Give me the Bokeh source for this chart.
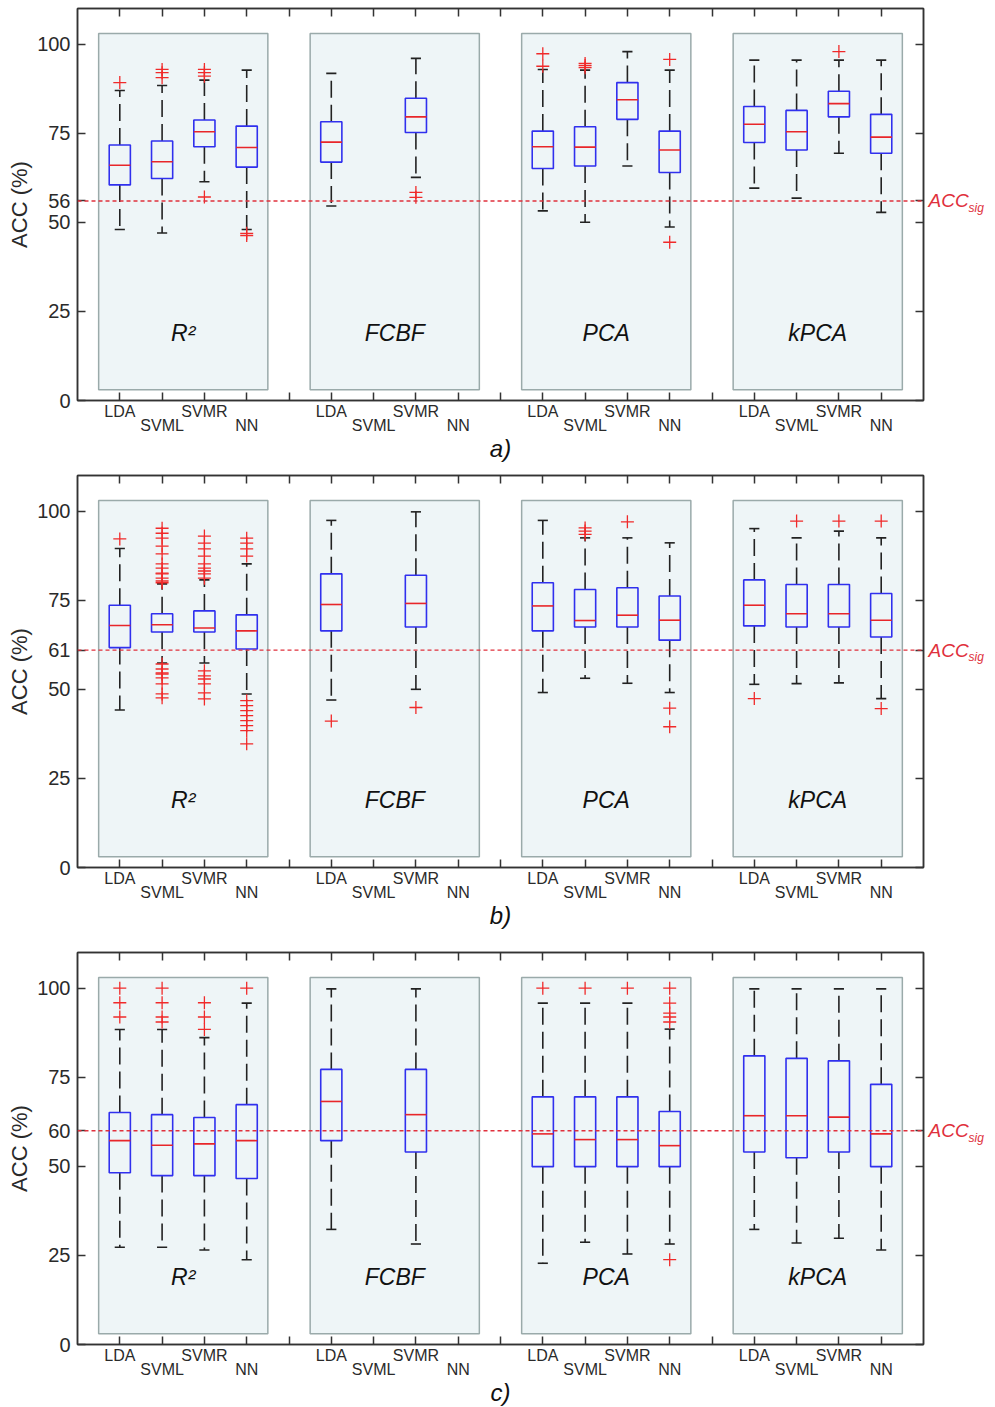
from bokeh.plotting import figure
from bokeh.models import (LinearAxis, FixedTicker, Span, Range1d, ColumnDataSource,
                          CustomLabelingPolicy)
from bokeh.layouts import column
from bokeh.embed import file_html
from bokeh.resources import INLINE
from bokeh.core.properties import value

# ---------------- data ----------------
methods = ["R²", "FCBF", "PCA", "kPCA"]
classifiers = ["LDA", "SVML", "SVMR", "NN"]
# boxes present (FCBF only has LDA and SVMR)
boxes = [("R²", "LDA"), ("R²", "SVML"), ("R²", "SVMR"), ("R²", "NN"),
         ("FCBF", "LDA"), ("FCBF", "SVMR"),
         ("PCA", "LDA"), ("PCA", "SVML"), ("PCA", "SVMR"), ("PCA", "NN"),
         ("kPCA", "LDA"), ("kPCA", "SVML"), ("kPCA", "SVMR"), ("kPCA", "NN")]

# panel a)
a_q1 = [60.5, 62.3, 71.2, 65.5, 66.9, 75.2, 65.1, 65.8, 78.9, 64.0, 72.4, 70.3, 79.6, 69.4]
a_med = [66.0, 67.0, 75.4, 71.0, 72.5, 79.6, 71.2, 71.1, 84.4, 70.3, 77.5, 75.4, 83.3, 73.9]
a_q3 = [71.7, 72.8, 78.7, 77.0, 78.2, 84.8, 75.6, 76.8, 89.2, 75.6, 82.5, 81.4, 86.8, 80.3]
a_wlo = [48.0, 47.0, 61.4, 48.0, 54.6, 62.6, 53.2, 50.0, 65.8, 48.7, 59.6, 56.8, 69.4, 52.8]
a_whi = [87.0, 88.4, 89.9, 92.7, 91.8, 96.0, 92.9, 92.7, 97.9, 92.7, 95.5, 95.5, 95.5, 95.5]
a_out = [[89.2], [92.9, 92.0, 90.6], [92.9, 92.0, 91.0, 57.1], [46.9, 46.3], [], [58.4, 57.0],
         [97.3, 93.8], [94.6, 94.0, 93.4], [], [95.7, 44.4], [], [], [97.9], []]
a_sig = 56

# panel b)
b_q1 = [61.7, 66.1, 66.1, 61.3, 66.4, 67.5, 66.4, 67.5, 67.5, 63.8, 67.8, 67.5, 67.5, 64.7]
b_med = [67.9, 68.1, 67.2, 66.4, 73.8, 74.1, 73.4, 69.3, 70.8, 69.4, 73.6, 71.2, 71.2, 69.4]
b_q3 = [73.6, 71.2, 72.0, 70.9, 82.4, 82.0, 79.9, 78.0, 78.5, 76.2, 80.7, 79.4, 79.4, 76.9]
b_wlo = [44.2, 57.4, 57.4, 48.7, 47.0, 50.0, 49.1, 53.1, 51.7, 49.1, 51.4, 51.6, 51.8, 47.4]
b_whi = [89.5, 79.6, 80.7, 85.2, 97.4, 99.8, 97.4, 92.5, 92.5, 91.1, 95.1, 92.5, 94.4, 92.5]
b_out = [[92.2],
         [95.2, 93.8, 92.4, 90.2, 88.0, 85.2, 84.0, 82.6, 82.4, 81.2, 80.4, 79.9,
          57.1, 55.7, 54.6, 54.3, 53.2, 51.5, 48.7, 47.6],
         [93.0, 91.0, 89.4, 87.4, 85.2, 84.0, 83.2, 82.4, 81.2,
          55.2, 53.8, 52.9, 51.5, 49.0, 47.3],
         [92.4, 91.0, 89.4, 87.4, 46.8, 45.4, 44.0, 42.6, 41.2, 39.8, 38.4, 34.7],
         [41.1], [44.9], [], [95.3, 94.4, 93.5], [97.0], [44.7, 39.5],
         [47.4], [97.2], [97.2], [97.2, 44.6]]
b_sig = 61

# panel c)
c_q1 = [48.2, 47.4, 47.4, 46.6, 57.2, 54.0, 49.9, 49.9, 49.9, 49.9, 54.0, 52.4, 54.0, 49.9]
c_med = [57.2, 55.9, 56.3, 57.2, 68.2, 64.5, 59.1, 57.5, 57.5, 55.8, 64.2, 64.2, 63.8, 59.1]
c_q3 = [65.1, 64.5, 63.7, 67.3, 77.2, 77.2, 69.5, 69.5, 69.5, 65.4, 81.0, 80.3, 79.6, 73.0]
c_wlo = [27.3, 27.3, 26.5, 23.8, 32.3, 28.2, 22.8, 28.7, 25.4, 28.2, 32.3, 28.5, 29.8, 26.5]
c_whi = [88.4, 88.4, 86.1, 95.8, 99.8, 99.8, 95.8, 95.8, 95.8, 88.5, 99.8, 99.8, 99.8, 99.8]
c_out = [[100, 95.9, 91.9], [100, 95.9, 91.9, 90.5], [95.9, 91.9, 88.4], [100], [], [],
         [100], [100], [100], [100, 95.8, 93.0, 91.9, 90.5, 23.8], [], [], [], []]
c_sig = 60

captions = ["a)", "b)", "c)"]

# ---------------- styling ----------------
FONT = "Liberation Sans"
TXT = "#2a2a2a"
AX = "#333333"
BOX_BLUE = "#3030ee"
MED_RED = "#e8262a"
OUT_RED = "#f02a2a"
SIG_RED = "#e0303c"
PANEL_FILL = "#eef5f7"
PANEL_LINE = "#9aaaaa"


def no_labels():
    return CustomLabelingPolicy(
        code="for (const i of [...indices]) indices.unset(i)\nreturn indices")


def keep_only(idx_list):
    cond = " && ".join("i != %d" % k for k in idx_list)
    return CustomLabelingPolicy(
        code="for (const i of [...indices]) { if (%s) indices.unset(i) }\nreturn indices" % cond)


def pos_of(m, c):
    return methods.index(m) * 5 + classifiers.index(c) + 1


def tick_axis(ticks, **kw):
    return LinearAxis(ticker=FixedTicker(ticks=ticks), major_tick_in=8, major_tick_out=0,
                      minor_tick_line_color=None, axis_line_color=AX,
                      axis_line_width=1.5, major_tick_line_color=AX,
                      major_tick_line_width=1.5, **kw)


def make_panel(q1, med, q3, wlo, whi, out, sig, caption, top_b):
    p = figure(frame_width=846, frame_height=392,
               x_range=Range1d(0, 20), y_range=Range1d(0, 110),
               x_axis_type=None, y_axis_type=None,
               output_backend="svg", toolbar_location=None,
               min_border_left=77, min_border_right=62,
               min_border_top=top_b, min_border_bottom=62,
               outline_line_color=AX, outline_line_width=1.5)

    # shaded method panels
    gx = [methods.index(m) * 5 + 2.5 for m in methods]
    p.quad(left=[g - 2 for g in gx], right=[g + 2 for g in gx],
           bottom=3, top=103, fill_color=PANEL_FILL, line_color=PANEL_LINE,
           line_width=1.5)
    p.text(x=gx, y=[19] * 4, text=methods, text_font=value(FONT),
           text_font_style="italic", text_font_size="23px",
           text_align="center", text_baseline="middle", text_color="#111111")

    xs = [pos_of(m, c) for m, c in boxes]
    src = ColumnDataSource(dict(x=xs, q1=q1, med=med, q3=q3, wlo=wlo, whi=whi,
                                xl=[x - 0.25 for x in xs], xr=[x + 0.25 for x in xs],
                                cl=[x - 0.12 for x in xs], cr=[x + 0.12 for x in xs]))
    # whiskers
    p.segment(x0="x", y0="q3", x1="x", y1="whi", source=src, line_color="#222222",
              line_width=1.6, line_dash="17 7")
    p.segment(x0="x", y0="q1", x1="x", y1="wlo", source=src, line_color="#222222",
              line_width=1.6, line_dash="17 7")
    p.segment(x0="cl", y0="whi", x1="cr", y1="whi", source=src, line_color="#222222",
              line_width=1.6)
    p.segment(x0="cl", y0="wlo", x1="cr", y1="wlo", source=src, line_color="#222222",
              line_width=1.6)
    # boxes
    p.quad(left="xl", right="xr", bottom="q1", top="q3", source=src,
           fill_color=None, line_color=BOX_BLUE, line_width=1.6)
    p.segment(x0="xl", y0="med", x1="xr", y1="med", source=src,
              line_color=MED_RED, line_width=1.6)
    # outliers
    ox, oy = [], []
    for x, vals in zip(xs, out):
        for v in vals:
            ox.append(x)
            oy.append(v)
    p.scatter(x=ox, y=oy, marker="cross", size=13, line_color=OUT_RED,
              line_width=1.3)

    # significance level
    p.add_layout(Span(location=sig, dimension="width", line_color=SIG_RED,
                      line_dash="4 3", line_width=1.4))

    yt = sorted([0, 25, 50, 75, 100, sig])
    xt = list(range(1, 20))

    yl = tick_axis(yt, axis_label="ACC (%)",
                   major_label_standoff=7, major_label_text_font=FONT,
                   major_label_text_font_size="20px", major_label_text_color=TXT,
                   axis_label_text_font=FONT, axis_label_text_font_size="22px",
                   axis_label_text_font_style="normal", axis_label_text_color=TXT,
                   axis_label_standoff=2)
    p.add_layout(yl, "left")

    # right: inward ticks, with the ACC_sig marker written at the threshold level
    yr = tick_axis(yt, major_label_overrides={sig: "ACC"},
                   major_label_policy=keep_only([yt.index(sig)]),
                   major_label_standoff=5, major_label_text_font=FONT,
                   major_label_text_font_size="19px", major_label_text_color=SIG_RED,
                   major_label_text_font_style="italic")
    p.add_layout(yr, "right")
    yr2 = LinearAxis(ticker=FixedTicker(ticks=[sig - 2]),
                     major_label_overrides={sig - 2: "sig"},
                     major_tick_in=0, major_tick_out=0, minor_tick_line_color=None,
                     axis_line_color=None, major_tick_line_color=None,
                     major_label_standoff=-3, major_label_text_font=FONT,
                     major_label_text_font_size="12px", major_label_text_color=SIG_RED,
                     major_label_text_font_style="italic")
    p.add_layout(yr2, "right")

    xtop = tick_axis(xt, major_label_policy=no_labels(), major_label_standoff=0,
                     major_label_text_font_size="1px")
    p.add_layout(xtop, "above")

    upper = {}
    lower = {}
    for m in methods:
        for c in ("LDA", "SVMR"):
            upper[pos_of(m, c)] = c
        for c in ("SVML", "NN"):
            lower[pos_of(m, c)] = c
    keep_idx = [xt.index(t) for t in sorted(upper.keys())]
    xb1 = tick_axis(xt, major_label_overrides=upper,
                    major_label_policy=keep_only(keep_idx),
                    major_label_standoff=2, major_label_text_font=FONT,
                    major_label_text_font_size="16px", major_label_text_color=TXT)
    p.add_layout(xb1, "below")
    xb2 = LinearAxis(ticker=FixedTicker(ticks=sorted(lower.keys())),
                     major_label_overrides=lower, major_tick_in=0, major_tick_out=0,
                     minor_tick_line_color=None, major_label_standoff=-6,
                     major_label_text_font=FONT, major_label_text_font_size="16px",
                     major_label_text_color=TXT, axis_line_color=None,
                     major_tick_line_color=None,
                     axis_label=caption, axis_label_text_font=FONT,
                     axis_label_text_font_size="24px",
                     axis_label_text_font_style="italic",
                     axis_label_text_color="#111111", axis_label_standoff=-2)
    p.add_layout(xb2, "below")
    return p


pa = make_panel(a_q1, a_med, a_q3, a_wlo, a_whi, a_out, a_sig, captions[0], 8)
pb = make_panel(b_q1, b_med, b_q3, b_wlo, b_whi, b_out, b_sig, captions[1], 11)
pc = make_panel(c_q1, c_med, c_q3, c_wlo, c_whi, c_out, c_sig, captions[2], 21)

layout = column(pa, pb, pc, spacing=0)
open("out.html", "w").write(file_html(layout, INLINE))
